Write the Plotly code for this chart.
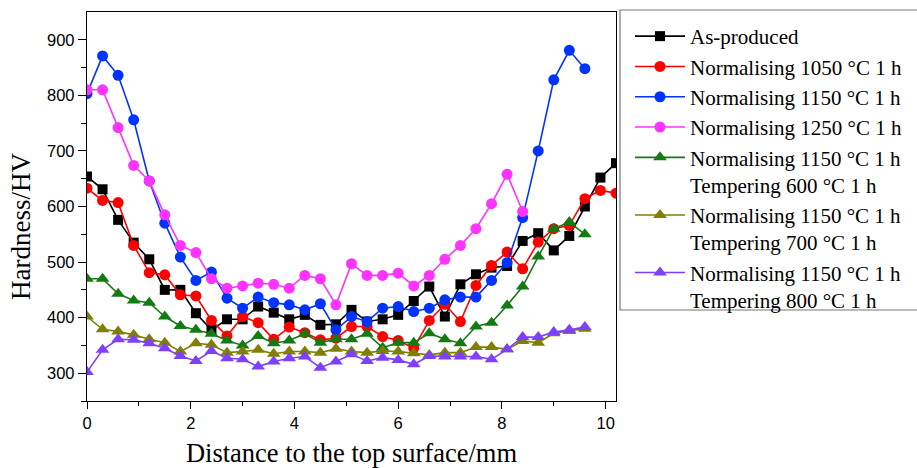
import plotly.graph_objects as go

# distance positions (mm)
x_all = [0.0, 0.3, 0.6, 0.9, 1.2, 1.5, 1.8, 2.1, 2.4, 2.7, 3.0, 3.3, 3.6, 3.9, 4.2, 4.5,
         4.8, 5.1, 5.4, 5.7, 6.0, 6.3, 6.6, 6.9, 7.2, 7.5, 7.8, 8.1, 8.4, 8.7, 9.0, 9.3,
         9.6, 9.9, 10.2]

as_produced = [654, 631, 576, 535, 505, 450, 450, 408, 378, 397, 397, 420, 409, 397, 405, 387,
               388, 414, 393, 397, 405, 430, 456, 402, 460, 478, 490, 493, 538, 552, 521, 547,
               600, 652, 678]
norm_1050 = [633, 611, 607, 530, 481, 477, 441, 439, 395, 367, 402, 391, 361, 383, 373, 360,
             363, 384, 384, 366, 359, 345, 395, 424, 393, 458, 494, 518, 488, 536, 560, 566,
             614, 629, 624]
norm_1150 = [803, 871, 836, 756, 646, 570, 509, 467, 482, 435, 417, 437, 427, 423, 414, 425,
             378, 402, 393, 417, 420, 411, 417, 432, 437, 437, 467, 499, 580, 700, 828, 881,
             848]
norm_1250 = [810, 810, 742, 674, 646, 585, 530, 517, 470, 453, 457, 462, 460, 453, 476, 470,
             423, 497, 476, 476, 480, 457, 476, 505, 530, 560, 605, 658, 591]
temp_600 = [470, 470, 443, 431, 427, 402, 385, 378, 371, 359, 350, 367, 354, 359, 371, 355,
            361, 361, 371, 346, 355, 355, 372, 361, 354, 384, 391, 422, 456, 510, 560, 572,
            550]
temp_700 = [402, 379, 375, 369, 361, 355, 339, 354, 351, 337, 339, 342, 335, 339, 339, 337,
            344, 339, 337, 340, 339, 336, 333, 337, 337, 347, 347, 343, 358, 355, 372, 376,
            380]
temp_800 = [302, 342, 361, 360, 354, 345, 331, 322, 340, 327, 325, 312, 321, 327, 330, 310,
            321, 334, 322, 328, 324, 316, 331, 330, 330, 330, 325, 343, 365, 365, 374, 378,
            383]

names = ["As-produced",
         "Normalising 1050 °C 1 h",
         "Normalising 1150 °C 1 h",
         "Normalising 1250 °C 1 h",
         "Normalising 1150 °C 1 h<br>Tempering 600 °C 1 h",
         "Normalising 1150 °C 1 h<br>Tempering 700 °C 1 h",
         "Normalising 1150 °C 1 h<br>Tempering 800 °C 1 h"]
series = [as_produced, norm_1050, norm_1150, norm_1250, temp_600, temp_700, temp_800]
colors = ["#000000", "#FF0000", "#0033FF", "#FF33FF", "#147A14", "#808000", "#7F3FFF"]
symbols = ["square", "circle", "circle", "circle", "triangle-up", "triangle-up", "triangle-up"]
sizes = [10, 11, 11, 11, 12, 12, 12]

SERIF = "Times New Roman, Liberation Serif, serif"
SANS = "Arial, Liberation Sans, sans-serif"

fig = go.Figure()
for name, ys, c, s, sz in zip(names, series, colors, symbols, sizes):
    fig.add_trace(go.Scatter(
        x=x_all[:len(ys)], y=ys, name=name, mode="lines+markers",
        line=dict(color=c, width=1.6),
        marker=dict(color=c, symbol=s, size=sz, line=dict(width=0)),
        cliponaxis=True,
    ))

# plot area: 87..616 px horizontally, 12..401 px vertically
PW, PH = 529.0, 389.0
def px_x(p):
    return (p - 87) / PW
def px_y(p):
    return (401 - p) / PH

fig.update_layout(
    width=917, height=468,
    margin=dict(l=87, r=301, t=12, b=67, autoexpand=False),
    plot_bgcolor="white", paper_bgcolor="white",
    showlegend=True,
    legend=dict(x=px_x(630), y=px_y(16), xanchor="left", yanchor="top",
                font=dict(family=SERIF, size=21, color="black"),
                bgcolor="rgba(0,0,0,0)", borderwidth=0,
                valign="top", itemwidth=50, tracegroupgap=0,
                maxheight=440),
    font=dict(family=SANS, color="black"),
    shapes=[dict(type="rect", xref="paper", yref="paper",
                 x0=px_x(620), x1=px_x(940), y0=px_y(310), y1=px_y(10),
                 line=dict(color="#777777", width=1.2), fillcolor="rgba(0,0,0,0)",
                 layer="below")],
    annotations=[dict(text="Hardness/HV", textangle=-90, xref="paper", yref="paper",
                      x=px_x(21), y=px_y(227), xanchor="center", yanchor="middle",
                      showarrow=False, font=dict(family=SERIF, size=27, color="black"))],
)
fig.update_xaxes(
    range=[0, 10.2], tickmode="array", tickvals=[0, 2, 4, 6, 8, 10],
    ticks="outside", ticklen=7, tickwidth=1.3, tickcolor="black",
    minor=dict(tickvals=[1, 3, 5, 7, 9], ticks="outside", ticklen=4, tickcolor="black", tickwidth=1.3),
    showline=True, linecolor="black", linewidth=1.3, mirror=True,
    showgrid=False, zeroline=False,
    tickfont=dict(family=SANS, size=16.5, color="black"),
    title=dict(text="Distance to the top surface/mm", font=dict(family=SERIF, size=26.5, color="black"), standoff=15),
)
fig.update_yaxes(
    range=[250, 950], tickmode="array", tickvals=[300, 400, 500, 600, 700, 800, 900],
    ticks="outside", ticklen=8, tickwidth=1.3, tickcolor="black",
    minor=dict(tickvals=[250, 350, 450, 550, 650, 750, 850], ticks="outside", ticklen=5, tickcolor="black", tickwidth=1.3),
    showline=True, linecolor="black", linewidth=1.3, mirror=True,
    showgrid=False, zeroline=False,
    tickfont=dict(family=SANS, size=16.5, color="black"),
)

fig.write_html("out.html")
